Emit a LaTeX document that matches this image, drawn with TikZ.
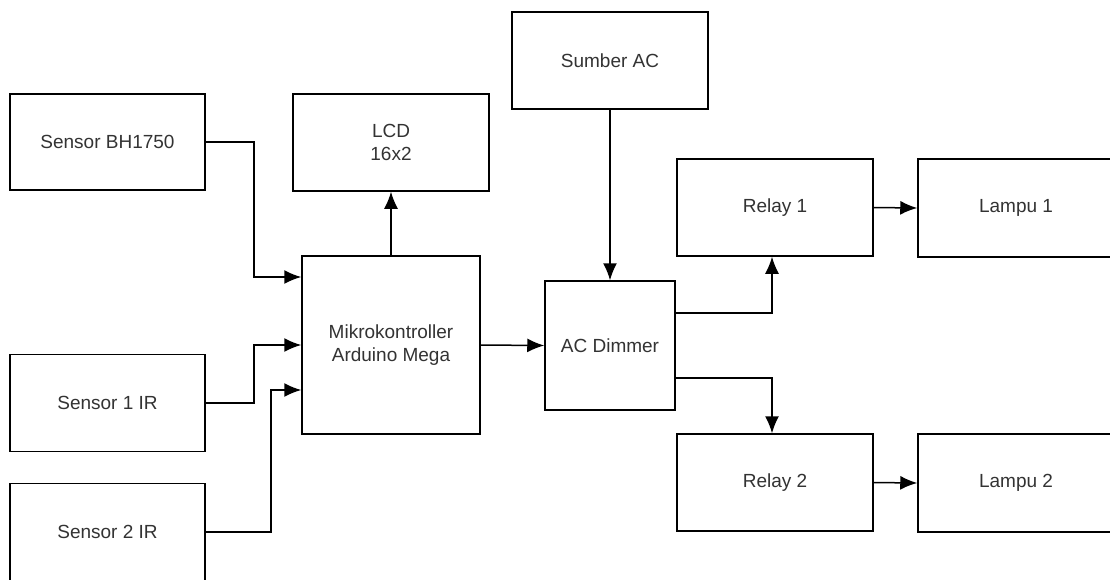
\documentclass[tikz,border=0pt]{standalone}
\usepackage{fontspec}
\setmainfont{Liberation Sans}
\usetikzlibrary{arrows.meta,calc}
\definecolor{txt}{HTML}{333333}
\tikzset{
  blk/.style={draw=black, line width=1.5pt, fill=white, rectangle, align=center,
    text=txt, font=\fontsize{19}{23}\selectfont, inner sep=0pt},
  conn/.style={line width=1.5pt, arrows={-Latex[length=17pt,width=14pt]}},
}
\begin{document}
\begin{tikzpicture}[x=1pt,y=1pt]
\clip (0,0) rectangle (1110,-579);
\useasboundingbox (0,0) rectangle (1110,-579);
\node[blk, minimum width=195pt, minimum height=96pt] (bh) at (107.5,-142) {Sensor BH1750};
\node[blk, minimum width=196pt, minimum height=97pt] (lcd) at (391,-142.5) {LCD\\16x2};
\node[blk, minimum width=178pt, minimum height=178pt] (mikro) at (391,-345) {Mikrokontroller\\Arduino Mega};
\node[blk, minimum width=195pt, minimum height=97pt] (s1) at (107.5,-403) {Sensor 1 IR};
\node[blk, minimum width=195pt, minimum height=97pt] (s2) at (107.5,-532) {Sensor 2 IR};
\node[blk, minimum width=196pt, minimum height=97pt] (sumber) at (610,-60.5) {Sumber AC};
\node[blk, minimum width=130pt, minimum height=129pt] (dimmer) at (610,-345.5) {AC Dimmer};
\node[blk, minimum width=196pt, minimum height=97pt] (r1) at (775,-207.5) {Relay 1};
\node[blk, minimum width=196pt, minimum height=97pt] (r2) at (775,-482.5) {Relay 2};
\node[blk, minimum width=196pt, minimum height=98pt] (l1) at (1016,-208) {Lampu 1};
\node[blk, minimum width=196pt, minimum height=98pt] (l2) at (1016,-483) {Lampu 2};

\draw[conn] (bh.east) -- ++(48,0) |- ([yshift=68pt]mikro.west);
\draw[conn] (s1.east) -- ++(48,0) |- (mikro.west);
\draw[conn] (s2.east) -- ++(65,0) |- ([yshift=-45pt]mikro.west);
\draw[conn] (mikro.north) -- (lcd.south);
\draw[conn] (mikro.east) -- (dimmer.west);
\draw[conn] (sumber.south) -- (dimmer.north);
\draw[conn] ([yshift=32.5pt]dimmer.east) -| ([xshift=-3pt]r1.south);
\draw[conn] ([yshift=-32.5pt]dimmer.east) -| ([xshift=-3pt]r2.north);
\draw[conn] (r1.east) -- (l1.west);
\draw[conn] (r2.east) -- (l2.west);
\end{tikzpicture}
\end{document}
